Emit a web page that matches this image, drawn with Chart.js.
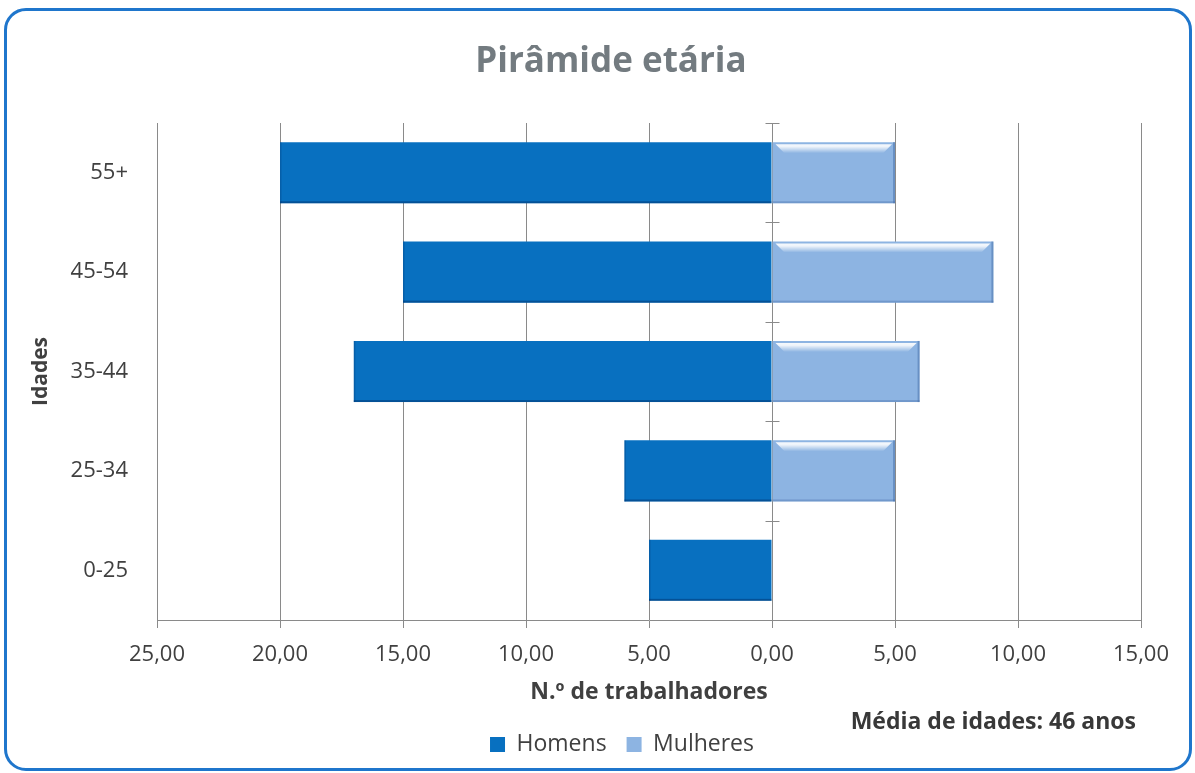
<!DOCTYPE html>
<html lang="pt">
<head>
<meta charset="utf-8">
<title>Pirâmide etária</title>
<script src="https://cdn.jsdelivr.net/npm/chart.js@4.4.1/dist/chart.umd.min.js"></script>
<style>
  html, body { margin: 0; padding: 0; background: #ffffff; }
  body { width: 1195px; height: 773px; position: relative; overflow: hidden; }
  #frame {
    position: absolute; left: 4px; top: 8px; width: 1188px; height: 763px;
    box-sizing: border-box; border: 3px solid #1f76cc; border-radius: 22px;
  }
  #wrap { position: absolute; left: 0; top: 0; width: 1195px; height: 773px; }
</style>
</head>
<body>
<div id="frame"></div>
<div id="wrap"><canvas id="c" width="1195" height="773"></canvas></div>
<script>
// Age groups, top to bottom
const ageGroups = ['55+', '45-54', '35-44', '25-34', '0-25'];
// Workers per age group
const homens = [20, 15, 17, 6, 5];
const mulheres = [5, 9, 6, 5, 0];
// Horizontal axis ticks (men plotted to the left of zero)
const xTickValues = [-25, -20, -15, -10, -5, 0, 5, 10, 15];
const xTickLabels = ['25,00', '20,00', '15,00', '10,00', '5,00', '0,00', '5,00', '10,00', '15,00'];
const seriesNames = ['Homens', 'Mulheres'];
const chartTitle = 'Pirâmide etária';
const xAxisTitle = 'N.º de trabalhadores';
const yAxisTitle = 'Idades';
const footNote = 'Média de idades: 46 anos';

const FONT = '"Open Sans", "Noto Sans", "Liberation Sans", sans-serif';
const TEXT = '#404040';
const GRID = '#8a8a8a';
const BLUE = '#0870c0';
const LIGHT = '#8db4e2';

Chart.defaults.font.family = FONT;

// Moves the title and legend blocks to chosen horizontal centres
const recenterBoxes = {
  id: 'recenterBoxes',
  afterLayout(chart, args, opts) {
    const move = (box, cx) => {
      if (!box || cx == null) return;
      const dx = cx - (box.left + box.right) / 2;
      box.left += dx; box.right += dx;
    };
    move(chart.titleBlock, opts.titleX);
    move(chart.legend, opts.legendX);
  }
};

// Small cross ticks on the zero axis at every category boundary
const zeroAxisTicks = {
  id: 'zeroAxisTicks',
  afterDatasetsDraw(chart, args, opts) {
    const { ctx, scales: { x, y } } = chart;
    const x0 = Math.round(x.getPixelForValue(0)) + 0.5;
    const n = y.ticks.length;
    const band = n > 1 ? y.getPixelForValue(1) - y.getPixelForValue(0) : y.height;
    ctx.save();
    ctx.strokeStyle = opts.color;
    ctx.lineWidth = 1;
    for (let i = 0; i <= n; i++) {
      const yy = Math.round(y.getPixelForValue(0) - band / 2 + i * band) + 0.5;
      ctx.beginPath();
      ctx.moveTo(x0 - opts.half, yy);
      ctx.lineTo(x0 + opts.half, yy);
      ctx.stroke();
    }
    ctx.restore();
  }
};

// Light relief on the bars: bevel on the women's bars, shaded edge on the men's
const barRelief = {
  id: 'barRelief',
  afterDatasetsDraw(chart) {
    const ctx = chart.ctx;
    ctx.save();
    chart.getDatasetMeta(0).data.forEach(bar => {
      const p = bar.getProps(['x', 'y', 'base', 'height'], true);
      const l = Math.min(p.x, p.base), r = Math.max(p.x, p.base);
      if (r - l < 2) return;
      const b = p.y + p.height / 2;
      ctx.fillStyle = 'rgba(0, 45, 100, 0.45)';
      ctx.fillRect(l, b - 2, r - l, 2);
      ctx.fillStyle = 'rgba(0, 45, 100, 0.25)';
      ctx.fillRect(l, p.y - p.height / 2, 1.5, p.height);
    });
    chart.getDatasetMeta(1).data.forEach(bar => {
      const p = bar.getProps(['x', 'y', 'base', 'height'], true);
      const l = Math.min(p.x, p.base), r = Math.max(p.x, p.base);
      if (r - l < 12) return;
      const t = p.y - p.height / 2, b = p.y + p.height / 2;
      const g = ctx.createLinearGradient(0, t + 1, 0, t + 11);
      g.addColorStop(0, 'rgba(255,255,255,0.95)');
      g.addColorStop(0.35, 'rgba(255,255,255,0.85)');
      g.addColorStop(1, 'rgba(255,255,255,0)');
      ctx.fillStyle = g;
      ctx.beginPath();
      ctx.moveTo(l + 3, t + 2);
      ctx.lineTo(r - 3, t + 2);
      ctx.lineTo(r - 12, t + 11);
      ctx.lineTo(l + 12, t + 11);
      ctx.closePath();
      ctx.fill();
      ctx.fillStyle = 'rgba(60, 100, 160, 0.45)';
      ctx.fillRect(r - 2, t, 2, p.height);
      ctx.fillStyle = 'rgba(60, 100, 160, 0.35)';
      ctx.fillRect(l, b - 2, r - l, 2);
    });
    ctx.restore();
  }
};

// Note with the mean age, lower right
const footNotePlugin = {
  id: 'footNote',
  afterDraw(chart, args, opts) {
    const ctx = chart.ctx;
    ctx.save();
    ctx.font = `bold ${opts.size}px ${FONT}`;
    ctx.fillStyle = opts.color;
    ctx.textAlign = 'right';
    ctx.textBaseline = 'middle';
    ctx.fillText(opts.text, opts.x, opts.y);
    ctx.restore();
  }
};

function draw() {
  new Chart(document.getElementById('c'), {
    type: 'bar',
    data: {
      labels: ageGroups,
      datasets: [
        {
          label: seriesNames[0],
          data: homens.map(v => -v),
          backgroundColor: BLUE,
          borderWidth: 0,
          barPercentage: 0.615,
          categoryPercentage: 1
        },
        {
          label: seriesNames[1],
          data: mulheres,
          backgroundColor: LIGHT,
          borderWidth: 0,
          barPercentage: 0.615,
          categoryPercentage: 1
        }
      ]
    },
    options: {
      responsive: false,
      animation: false,
      indexAxis: 'y',
      layout: { padding: { left: 18, right: 54, top: 0, bottom: 7 } },
      scales: {
        x: {
          type: 'linear',
          stacked: true,
          min: xTickValues[0],
          max: xTickValues[xTickValues.length - 1],
          afterBuildTicks: s => { s.ticks = xTickValues.map(v => ({ value: v })); },
          afterFit: s => { s.height = 93; },
          grid: { color: GRID, lineWidth: 1, drawTicks: true, tickLength: 8, tickColor: GRID },
          border: { display: true, color: GRID, width: 1 },
          ticks: {
            font: { size: 22 },
            color: TEXT,
            padding: 14,
            maxRotation: 0,
            autoSkip: false,
            callback: v => xTickLabels[xTickValues.indexOf(v)]
          },
          title: {
            display: true,
            text: xAxisTitle,
            font: { size: 23, weight: 'bold' },
            color: TEXT,
            padding: { top: 0, bottom: 7 }
          }
        },
        y: {
          type: 'category',
          stacked: true,
          afterFit: s => { s.width = 139; },
          grid: { display: false, drawTicks: false },
          border: { display: false },
          ticks: { font: { size: 22 }, color: TEXT, padding: 29 },
          title: {
            display: true,
            text: yAxisTitle,
            font: { size: 21, weight: 'bold' },
            color: TEXT,
            padding: { top: 10, bottom: 0 }
          }
        }
      },
      plugins: {
        title: {
          display: true,
          text: chartTitle,
          font: { size: 35, weight: 'bold' },
          color: '#737b80',
          padding: { top: 41, bottom: 40 }
        },
        legend: {
          position: 'bottom',
          labels: {
            font: { size: 23 },
            color: TEXT,
            boxWidth: 15,
            boxHeight: 15,
            padding: 20
          }
        },
        tooltip: { enabled: false },
        recenterBoxes: { titleX: 611, legendX: 622 },
        zeroAxisTicks: { color: GRID, half: 7 },
        footNote: { text: footNote, size: 23, color: '#383838', x: 1136, y: 722 }
      }
    },
    plugins: [recenterBoxes, zeroAxisTicks, barRelief, footNotePlugin]
  });
}

const fontLoads = ['22px "Open Sans"', 'bold 22px "Open Sans"'].map(f => document.fonts.load(f).catch(() => null));
Promise.all(fontLoads).then(draw, draw);
</script>
</body>
</html>
